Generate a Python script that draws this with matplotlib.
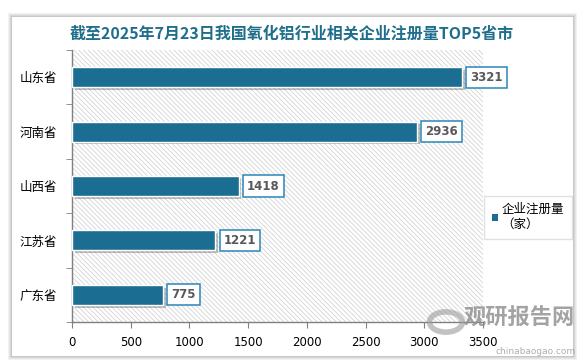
import matplotlib
matplotlib.use('Agg')
import matplotlib.pyplot as plt
from matplotlib.patches import Rectangle, Circle
import matplotlib.patheffects as pe

plt.rcParams['font.family'] = ['Noto Sans CJK SC', 'DejaVu Sans']
plt.rcParams['hatch.linewidth'] = 0.6
plt.rcParams['hatch.color'] = '#d4d4d4'

# data
provinces = ['山东省', '河南省', '山西省', '江苏省', '广东省']
counts = [3321, 2936, 1418, 1221, 775]
xticks = [0, 500, 1000, 1500, 2000, 2500, 3000, 3500]
title = '截至2025年7月23日我国氧化铝行业相关企业注册量TOP5省市'
series_name = '企业注册量\n（家）'

bar_color = '#1b6e92'
title_color = '#1f6e8c'

fig = plt.figure(figsize=(5.88, 3.62), dpi=100)
fig.patch.set_facecolor('white')

# card with a soft shadow
for i, a in enumerate([0.05, 0.05, 0.06, 0.07]):
    d = (4 - i) / 588
    fig.patches.append(Rectangle((12 / 588 - d, 6 / 362 - d * 1.6), 561 / 588 + 2 * d, 339 / 362 + 2 * d * 1.6,
                                 transform=fig.transFigure, facecolor='black', alpha=a,
                                 edgecolor='none', zorder=-3))
fig.patches.append(Rectangle((12 / 588, 6 / 362), 561 / 588, 339 / 362, transform=fig.transFigure,
                             facecolor='white', edgecolor='none', zorder=-2))

ax = fig.add_axes([72 / 588, 1 - 322 / 362, 411 / 588, 272 / 362])
ax.set_zorder(1)
ax.set_facecolor('none')
ax.add_patch(Rectangle((0, 0), 1, 1, transform=ax.transAxes, facecolor='white',
                       edgecolor='#d4d4d4', linewidth=0, hatch='\\\\\\\\\\\\\\', zorder=0))

ypos = list(range(len(provinces)))
bars = ax.barh(ypos, counts, height=0.37, color=bar_color, edgecolor='white', linewidth=1, zorder=3)
for b in bars:
    b.set_path_effects([pe.SimplePatchShadow(offset=(2, -2), shadow_rgbFace='black', alpha=0.25), pe.Normal()])

for y, v in zip(ypos, counts):
    ax.annotate(str(v), (v, y), xytext=(6, 0), textcoords='offset points', ha='left', va='center',
                fontsize=8.5, fontweight='bold', color='#595959', family='DejaVu Sans', zorder=5,
                bbox=dict(boxstyle='square,pad=0.35', facecolor='white', edgecolor='#2a86b8', linewidth=1.1))

ax.set_xlim(0, 3500)
ax.set_ylim(len(provinces) - 0.5, -0.5)
ax.set_xticks(xticks)
ax.set_xticklabels([str(t) for t in xticks], fontsize=8.5, family='DejaVu Sans')
ax.set_yticks(ypos)
ax.set_yticklabels(provinces, fontsize=9)
ax.set_yticks([i + 0.5 for i in range(-1, len(provinces))], minor=True)
ax.tick_params(axis='y', which='major', length=0, pad=11)
ax.tick_params(axis='y', which='minor', length=4, color='#808080', direction='out')
ax.tick_params(axis='x', length=4, color='#808080', direction='out', pad=6)
for s in ['top', 'right']:
    ax.spines[s].set_visible(False)
for s in ['left', 'bottom']:
    ax.spines[s].set_color('#808080')
    ax.spines[s].set_linewidth(1)

fig.text(292 / 588, 1 - 33 / 362, title, ha='center', va='center', fontsize=11.5,
         fontweight='bold', color=title_color)

leg = fig.legend([Rectangle((0, 0), 1, 1, facecolor=bar_color)], [series_name],
                 loc='center left', bbox_to_anchor=(484 / 588, 1 - 217 / 362), fontsize=9,
                 handlelength=0.5, handleheight=0.5, handletextpad=0.3, borderpad=0.6,
                 borderaxespad=0, frameon=True, fancybox=False, edgecolor='#d9d9d9')
leg.get_frame().set_linewidth(1)
leg.set_zorder(4)

# watermark
fig.patches.append(Circle((446 / 588, 1 - 322 / 362), 0.028, transform=fig.transFigure,
                          facecolor='none', edgecolor='#9a9a9a', linewidth=4, alpha=0.6, zorder=6))
fig.text(519 / 588, 1 - 318 / 362, '观研报告网', ha='center', va='center', fontsize=16,
         fontweight='bold', color='#8c8c8c', alpha=0.8, zorder=6)
fig.text(536 / 588, 1 - 351 / 362, 'chinabaogao.com', ha='center', va='center', fontsize=6.5,
         color='#9a9a9a', alpha=0.8, zorder=6, family='DejaVu Sans')

fig.savefig('out.png', dpi=100)
